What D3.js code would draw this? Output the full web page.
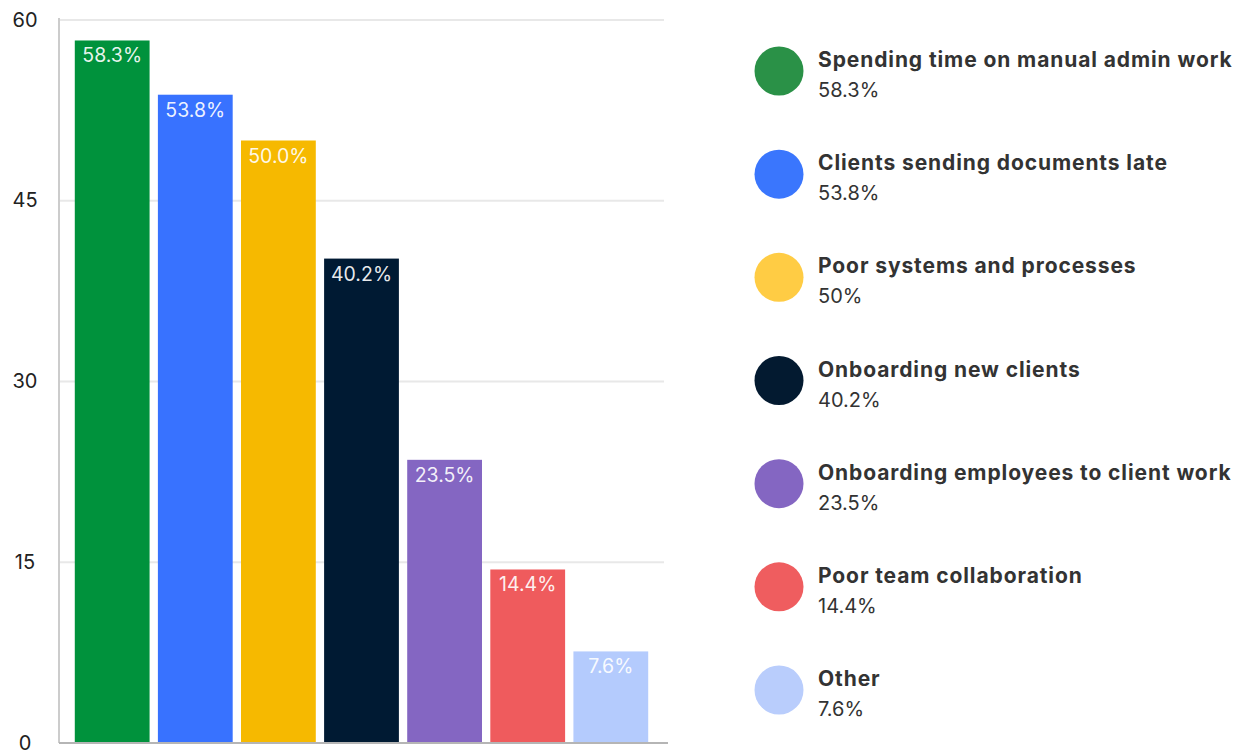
<!DOCTYPE html>
<html>
<head>
<meta charset="utf-8">
<script src="https://cdn.jsdelivr.net/npm/d3@7"></script>
<style>
  html, body { margin: 0; padding: 0; background: #ffffff; }
  svg { display: block; font-family: Inter, "Noto Sans", sans-serif; }
</style>
</head>
<body>
<svg id="chart" width="1248" height="753"></svg>
<script>
// Challenges reported, share of respondents (%)
const categories = [
  "Spending time on manual admin work",
  "Clients sending documents late",
  "Poor systems and processes",
  "Onboarding new clients",
  "Onboarding employees to client work",
  "Poor team collaboration",
  "Other"
];
const values = [58.3, 53.8, 50.0, 40.2, 23.5, 14.4, 7.6];
const barLabels = ["58.3%", "53.8%", "50.0%", "40.2%", "23.5%", "14.4%", "7.6%"];
const legendLabels = ["58.3%", "53.8%", "50%", "40.2%", "23.5%", "14.4%", "7.6%"];
const yTicks = [0, 15, 30, 45, 60];

const barColors = ["#00923c", "#3872ff", "#f6b900", "#001a33", "#8466c2", "#ef5b5d", "#b4cbfd"];
const dotColors = ["#2a9147", "#3a76fd", "#ffcc44", "#031a30", "#8466c2", "#ef5d5f", "#b9cdfc"];

const svg = d3.select("#chart");

const plot = { left: 59, right: 664, top: 20, bottom: 743 };

const x = d3.scaleBand()
  .domain(d3.range(categories.length))
  .range([plot.left, plot.right])
  .paddingInner(0.1)
  .paddingOuter(0.19);

const y = d3.scaleLinear()
  .domain([0, 60])
  .range([plot.bottom, plot.top]);

// horizontal gridlines
svg.append("g")
  .selectAll("line")
  .data(yTicks.filter(d => d > 0))
  .join("line")
  .attr("x1", plot.left)
  .attr("x2", plot.right)
  .attr("y1", d => y(d))
  .attr("y2", d => y(d))
  .attr("stroke", "#e8e8e8")
  .attr("stroke-width", 2);

// y axis
const yAxis = svg.append("g")
  .attr("transform", `translate(${plot.left},0)`)
  .call(d3.axisLeft(y).tickValues(yTicks).tickSize(0).tickPadding(0));
yAxis.select(".domain")
  .attr("stroke", "#cccccc")
  .attr("stroke-width", 2)
  .attr("d", `M0,${plot.top - 2}V${plot.bottom}`);
yAxis.selectAll("text")
  .attr("x", -34)
  .attr("dy", "0.3em")
  .attr("text-anchor", "middle")
  .attr("fill", "#222222")
  .style("font-family", "Inter, sans-serif")
  .style("font-size", "20px");

// bars
svg.append("g")
  .selectAll("rect")
  .data(values)
  .join("rect")
  .attr("x", (d, i) => x(i))
  .attr("width", x.bandwidth())
  .attr("y", d => y(d))
  .attr("height", d => y(0) - y(d))
  .attr("fill", (d, i) => barColors[i]);

// value labels inside the top of each bar
svg.append("g")
  .selectAll("text")
  .data(values)
  .join("text")
  .attr("x", (d, i) => x(i) + x.bandwidth() / 2)
  .attr("y", d => y(d) + 22)
  .attr("text-anchor", "middle")
  .attr("fill", "rgba(255,255,255,0.92)")
  .style("font-size", "19.5px")
  .text((d, i) => barLabels[i]);

// baseline
svg.append("line")
  .attr("x1", plot.left)
  .attr("x2", plot.right + 4)
  .attr("y1", y(0))
  .attr("y2", y(0))
  .attr("stroke", "#b5b5b5")
  .attr("stroke-width", 2);

// legend
const ly = d3.scaleLinear().domain([0, categories.length - 1]).range([71, 690]);
const legend = svg.append("g")
  .selectAll("g")
  .data(categories)
  .join("g")
  .attr("transform", (d, i) => `translate(779,${ly(i)})`);

legend.append("circle")
  .attr("r", 24.5)
  .attr("fill", (d, i) => dotColors[i]);

legend.append("text")
  .attr("x", 39)
  .attr("y", -4)
  .attr("fill", "#333333")
  .style("font-size", "21px")
  .style("font-weight", 700)
  .style("letter-spacing", "0.9px")
  .text(d => d);

legend.append("text")
  .attr("x", 39)
  .attr("y", 26)
  .attr("fill", "#333333")
  .style("font-size", "20px")
  .text((d, i) => legendLabels[i]);
</script>
</body>
</html>
